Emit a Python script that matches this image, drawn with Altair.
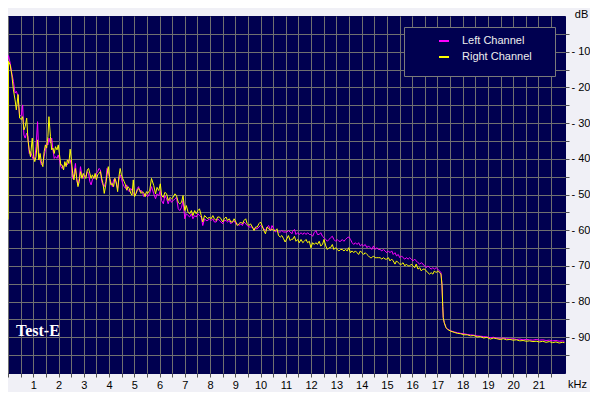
import altair as alt
import pandas as pd

# ---- data (frequency in kHz, level in dB) ----
freq_khz = [
    0.00, 0.02, 0.085, 0.15, 0.215, 0.28, 0.33, 0.40, 0.46, 0.53, 0.58, 0.63, 0.68, 0.74, 0.79, 0.84, 0.89, 0.96,
    1.01, 1.06, 1.11, 1.17, 1.22, 1.27, 1.32, 1.38, 1.43, 1.48, 1.53, 1.58, 1.62, 1.68, 1.73, 1.78, 1.83, 1.88, 1.94, 1.99,
    2.04, 2.09, 2.14, 2.20, 2.25, 2.30, 2.35, 2.41, 2.46, 2.51, 2.56, 2.61, 2.67, 2.72, 2.77, 2.82, 2.87, 2.93, 2.98,
    3.03, 3.08, 3.14, 3.19, 3.24, 3.29, 3.34, 3.40, 3.45, 3.50, 3.55, 3.60, 3.66, 3.71, 3.76, 3.81, 3.87, 3.92, 3.97,
    4.02, 4.07, 4.13, 4.18, 4.23, 4.28, 4.34, 4.39, 4.44, 4.49, 4.54, 4.60, 4.65, 4.70, 4.75, 4.80, 4.86, 4.91, 4.96,
    5.01, 5.07, 5.12, 5.17, 5.22, 5.27, 5.33, 5.38, 5.43, 5.48, 5.53, 5.61, 5.68,
    5.77, 5.84, 5.90, 5.97, 6.03, 6.08, 6.15, 6.21, 6.28, 6.34, 6.41, 6.47, 6.54, 6.61, 6.67, 6.74, 6.80, 6.87, 6.93,
    7.00, 7.06, 7.13, 7.19, 7.26, 7.32, 7.39, 7.45, 7.52, 7.58, 7.65, 7.71, 7.78, 7.84, 7.91, 7.97,
    8.04, 8.11, 8.17, 8.24, 8.30, 8.37, 8.43, 8.50, 8.56, 8.63, 8.69, 8.76, 8.82, 8.89, 8.95,
    9.02, 9.08, 9.15, 9.21, 9.28, 9.34, 9.41, 9.47, 9.54, 9.60, 9.67, 9.74, 9.80, 9.87, 9.93,
    10.00, 10.06, 10.13, 10.19, 10.26, 10.32, 10.39, 10.45, 10.52, 10.58, 10.65, 10.71, 10.78, 10.84, 10.91, 10.97,
    11.04, 11.10, 11.17, 11.24, 11.27, 11.34, 11.40, 11.47, 11.53, 11.60, 11.67, 11.73, 11.80, 11.86, 11.93, 11.99,
    12.06, 12.12, 12.19, 12.25, 12.32, 12.38, 12.45, 12.51, 12.58, 12.64, 12.71, 12.77, 12.84, 12.90, 12.97,
    13.03, 13.10, 13.17, 13.23, 13.30, 13.36, 13.43, 13.49, 13.56, 13.62, 13.69, 13.75, 13.82, 13.88, 13.95,
    14.01, 14.08, 14.14, 14.21, 14.27, 14.34, 14.40, 14.47, 14.53, 14.60, 14.66, 14.73, 14.80, 14.86, 14.93, 14.99,
    15.06, 15.12, 15.19, 15.25, 15.32, 15.38, 15.45, 15.51, 15.58, 15.64, 15.71, 15.77, 15.84, 15.90, 15.97,
    16.03, 16.10, 16.16, 16.23, 16.30, 16.36, 16.43, 16.49, 16.56, 16.62, 16.69, 16.75, 16.82, 16.88, 16.95,
    17.01, 17.08, 17.14, 17.18, 17.21, 17.23, 17.27, 17.34, 17.40, 17.53, 17.66, 17.79, 17.92,
    18.05, 18.18, 18.31, 18.44, 18.57, 18.70, 18.83, 18.96, 19.09, 19.22, 19.35, 19.48, 19.61, 19.74, 19.87,
    20.00, 20.13, 20.26, 20.39, 20.52, 20.65, 20.78, 20.91, 21.04, 21.17, 21.30, 21.43, 21.56, 21.69, 21.82, 21.95, 22.03,
]

left_db = [
    -12.0, -11.1, -13.2, -16.0, -18.3, -21.6, -21.1, -22.5, -28.2, -27.7, -24.9, -33.3, -34.2, -32.8, -33.8, -38.5, -38.0, -39.4,
    -40.3, -39.9, -36.6, -29.6, -38.9, -40.3, -41.7, -41.3, -39.4, -37.5, -35.6, -36.1, -34.2, -35.6, -34.2, -37.5, -39.9, -39.4, -39.9, -38.9,
    -40.3, -42.2, -42.7, -42.2, -41.7, -41.3, -41.7, -40.3, -40.3, -41.7, -45.5, -44.5, -41.3, -45.9, -47.3, -45.5, -42.2, -45.0, -45.5,
    -44.5, -45.0, -43.6, -44.1, -46.4, -47.3, -45.9, -45.0, -45.5, -44.1, -43.6, -42.7, -43.1, -46.4, -47.3, -47.8, -46.4, -42.7, -43.6,
    -45.5, -46.4, -47.8, -45.9, -45.5, -46.9, -48.3, -45.9, -44.5, -45.5, -46.9, -47.8, -48.3, -47.3, -48.8, -49.2, -48.3, -48.8, -49.7,
    -50.2, -49.7, -48.3, -47.8, -49.2, -48.8, -49.7, -50.6, -49.7, -50.2, -50.6, -49.7, -47.8,
    -49.8, -51.2, -49.8, -50.3, -48.9, -51.7, -52.6, -50.3, -51.2, -52.6, -51.2, -52.2, -51.7, -51.2, -50.8, -54.0, -54.5, -53.6, -51.7,
    -56.8, -55.4, -55.9, -56.3, -55.4, -56.8, -55.9, -56.3, -55.4, -55.9, -56.3, -58.7, -56.8, -57.3, -57.3, -56.8,
    -57.3, -56.8, -57.7, -57.7, -56.8, -57.3, -57.7, -58.2, -57.3, -57.3, -57.7, -57.3, -58.2, -57.7, -57.3,
    -58.2, -58.2, -58.7, -58.2, -58.7, -57.7, -58.2, -58.7, -59.1, -59.1, -59.1, -59.6, -59.6, -59.6, -59.1,
    -58.7, -59.1, -59.6, -60.1, -59.1, -58.7, -60.1, -58.7, -59.6, -60.5, -60.1, -60.5, -60.5, -60.1, -60.5, -60.5,
    -60.5, -60.1, -60.5, -61.0, -60.3, -59.8, -61.2, -60.7, -61.2, -60.7, -61.2, -60.7, -61.2, -60.7, -61.2, -61.2,
    -61.7, -60.7, -60.1, -61.2, -61.2, -60.7, -61.7, -62.1, -62.6, -63.1, -62.6, -62.1, -61.7, -62.6, -63.1,
    -62.6, -63.1, -63.1, -62.6, -63.1, -62.6, -62.1, -61.9, -62.6, -63.5, -64.0, -63.5, -64.0, -63.5, -64.4,
    -64.0, -64.4, -64.0, -64.9, -64.4, -64.9, -65.4, -64.4, -65.4, -64.9, -65.4, -65.4, -65.8, -65.4, -65.8, -66.3,
    -65.8, -66.3, -65.8, -66.8, -66.3, -67.2, -66.8, -67.7, -67.2, -67.7, -68.1, -67.7, -68.1, -67.7, -68.1,
    -68.6, -68.1, -68.6, -69.1, -69.5, -69.1, -69.5, -70.0, -70.5, -70.0, -70.5, -70.9, -70.5, -70.9, -70.5,
    -70.9, -71.4, -71.9, -75.3, -81.3, -84.5, -85.9, -87.3, -87.7, -88.2, -88.5, -88.7, -88.9,
    -89.0, -89.2, -89.3, -89.4, -89.6, -89.7, -89.8, -89.9, -90.1, -90.0, -90.2, -90.3, -90.2, -90.4, -90.5,
    -90.4, -90.6, -90.5, -90.7, -90.6, -90.7, -90.8, -90.6, -90.8, -90.7, -90.9, -90.8, -91.0, -90.9, -91.1, -91.0, -91.1,
]

right_db = [
    -57.0, -12.7, -13.7, -16.5, -20.7, -23.5, -26.3, -22.0, -28.6, -29.0, -28.2, -31.9, -31.0, -28.6, -34.7, -37.5, -39.4, -34.2,
    -39.4, -40.8, -39.4, -34.7, -40.3, -38.5, -40.8, -42.2, -38.0, -36.1, -37.0, -33.8, -28.2, -33.8, -37.5, -37.0, -38.5, -36.6, -37.5, -36.1,
    -38.9, -41.7, -41.7, -43.1, -40.8, -42.2, -40.3, -41.3, -37.3, -40.3, -44.1, -45.9, -42.7, -45.5, -47.8, -46.4, -43.6, -45.5, -44.1,
    -45.0, -45.5, -43.1, -42.7, -44.1, -45.5, -44.5, -45.5, -44.1, -45.9, -44.5, -44.1, -43.6, -45.5, -46.9, -49.7, -47.3, -44.5, -42.2,
    -45.0, -47.3, -46.9, -47.8, -45.5, -46.4, -49.2, -45.0, -42.7, -44.5, -45.5, -46.4, -47.3, -48.8, -47.8, -48.3, -49.7, -50.2, -45.9,
    -50.6, -49.7, -48.8, -48.3, -48.8, -49.7, -49.2, -49.7, -50.6, -49.2, -49.7, -48.8, -45.5,
    -47.5, -49.8, -48.0, -48.9, -47.0, -50.3, -50.8, -49.4, -49.8, -51.7, -50.8, -51.2, -50.8, -49.8, -50.3, -52.2, -52.6, -52.2, -50.3,
    -54.5, -53.1, -55.0, -55.4, -54.5, -55.9, -54.5, -55.4, -54.5, -54.0, -55.9, -57.7, -55.9, -56.3, -56.8, -56.3,
    -56.8, -55.9, -56.8, -57.3, -56.3, -56.3, -56.8, -57.7, -56.8, -56.3, -57.3, -56.8, -57.7, -57.7, -56.8,
    -57.7, -58.7, -58.2, -57.7, -58.2, -57.3, -56.8, -58.2, -58.7, -58.2, -59.1, -60.1, -59.1, -59.1, -58.2,
    -57.7, -58.7, -60.1, -61.0, -59.1, -59.6, -60.1, -59.6, -60.1, -60.1, -59.6, -61.5, -61.9, -61.5, -62.4, -63.3,
    -62.4, -61.5, -62.9, -62.4, -62.6, -61.7, -63.1, -62.6, -63.5, -62.6, -63.5, -63.1, -62.6, -63.5, -63.1, -64.9,
    -63.5, -64.0, -63.5, -64.0, -63.1, -64.4, -64.0, -62.6, -64.4, -65.4, -64.9, -64.9, -64.0, -65.4, -64.9,
    -65.4, -65.8, -65.4, -65.4, -65.8, -65.4, -65.8, -64.9, -66.3, -65.8, -66.3, -65.8, -66.3, -66.8, -65.8,
    -66.3, -66.8, -66.3, -66.8, -67.2, -67.7, -67.7, -67.2, -67.7, -67.7, -67.7, -67.7, -68.1, -67.7, -68.1, -68.1,
    -67.7, -68.6, -68.1, -68.6, -69.5, -68.6, -69.1, -69.5, -69.5, -69.1, -70.0, -69.5, -70.0, -70.0, -69.5,
    -70.0, -70.5, -69.5, -70.9, -70.5, -71.4, -70.9, -70.9, -71.4, -71.9, -72.3, -71.9, -72.3, -71.4, -71.9,
    -71.4, -71.9, -72.3, -75.3, -81.3, -84.5, -85.9, -87.3, -87.8, -88.3, -88.6, -88.9, -89.0,
    -89.3, -89.3, -89.6, -89.5, -89.9, -89.8, -90.2, -90.0, -90.5, -90.2, -90.4, -90.6, -90.4, -90.7, -90.6,
    -90.8, -90.7, -91.0, -90.9, -91.1, -91.0, -91.2, -91.1, -91.3, -91.1, -91.4, -91.2, -91.5, -91.3, -91.6, -91.4, -91.5,
]

channels = ["Left Channel", "Right Channel"]
channel_colors = ["#ff00ff", "#ffff00"]
x_tick_values = [i * 0.5 for i in range(44)]
y_tick_values = [-95, -90, -85, -80, -75, -70, -65, -60, -55, -50, -45, -40, -35, -30, -25, -20, -15, -10, -5]
note_text = ["Test-E"]

rows = []
for f, l, r in zip(freq_khz, left_db, right_db):
    rows.append({"kHz": f, "dB": l, "channel": channels[0]})
    rows.append({"kHz": f, "dB": r, "channel": channels[1]})
df = pd.DataFrame(rows)

NAVY = "#000050"
GRID = "#707070"
FONT = "Liberation Sans"
PLOT_W = 557
PLOT_H = 357

# frame drawn behind the legend entries (decoration, like the analyser's legend panel)
legend_frame = alt.Chart(pd.DataFrame({"k": [0]})).mark_rect(
    fill=NAVY, stroke="#7a7a7a", strokeWidth=1
).encode(x=alt.value(396.5), x2=alt.value(547.5), y=alt.value(11.5), y2=alt.value(60.5))

lines = alt.Chart(df).mark_line(strokeWidth=1).encode(
    x=alt.X(
        "kHz:Q",
        scale=alt.Scale(domain=[0, 22.05], nice=False, zero=False),
        axis=alt.Axis(
            values=x_tick_values,
            labelExpr="(datum.value % 1 == 0 && datum.value > 0 && datum.value < 22) ? datum.value : ''",
            labelOverlap=False,
            labelFlush=False,
            labelPadding=2,
            tickSize=4,
            tickColor="#555555",
            domain=False,
            grid=True,
            gridColor=GRID,
            gridOpacity=1,
            gridWidth=1,
            title="kHz",
            titleX=569,
            titleY=11,
            titleAlign="center",
            titleBaseline="middle",
            titleFont=FONT,
            titleFontSize=11,
            titleFontWeight="normal",
            titleColor="#000000",
        ),
    ),
    y=alt.Y(
        "dB:Q",
        scale=alt.Scale(domain=[-100, 0], nice=False, zero=False),
        axis=alt.Axis(
            orient="right",
            values=y_tick_values,
            labelExpr="datum.value % 10 == 0 ? '- ' + abs(datum.value) : ''",
            labelOverlap=False,
            labelFlush=False,
            labelAlign="left",
            labelBaseline="middle",
            labelPadding=2,
            tickSize=4,
            tickColor="#555555",
            domain=False,
            grid=True,
            gridColor=GRID,
            gridOpacity=1,
            gridWidth=1,
            title="dB",
            titleAngle=0,
            titleX=16,
            titleY=-1.5,
            titleAlign="center",
            titleBaseline="middle",
            titleFont=FONT,
            titleFontSize=11,
            titleFontWeight="normal",
            titleColor="#000000",
        ),
    ),
    color=alt.Color(
        "channel:N",
        scale=alt.Scale(domain=channels, range=channel_colors),
        legend=alt.Legend(
            title=None,
            orient="none",
            legendX=400,
            legendY=9,
            padding=10,
            rowPadding=5,
            symbolOffset=20,
            symbolType="stroke",
            symbolSize=100,
            symbolStrokeWidth=2,
            labelOffset=12,
            labelFont=FONT,
            labelFontSize=11,
            labelColor="#eeeeee",
        ),
    ),
)

note = alt.Chart(pd.DataFrame({"t": note_text})).mark_text(
    align="left",
    baseline="alphabetic",
    font="Liberation Serif",
    fontSize=16,
    fontWeight="bold",
    color="#ffffff",
).encode(x=alt.value(8), y=alt.value(320), text="t:N")

chart = alt.layer(legend_frame, lines, note).properties(
    width=PLOT_W,
    height=PLOT_H,
    padding={"left": 0, "top": 8, "right": 25, "bottom": 19},
    autosize=alt.AutoSizeParams(type="none"),
    background="#f0f0f6",
).configure_view(fill=NAVY, stroke=NAVY).configure_axis(
    labelFont=FONT, labelFontSize=11, labelColor="#000000"
)

chart.save("out.html", embed_options={"renderer": "svg", "actions": False})
